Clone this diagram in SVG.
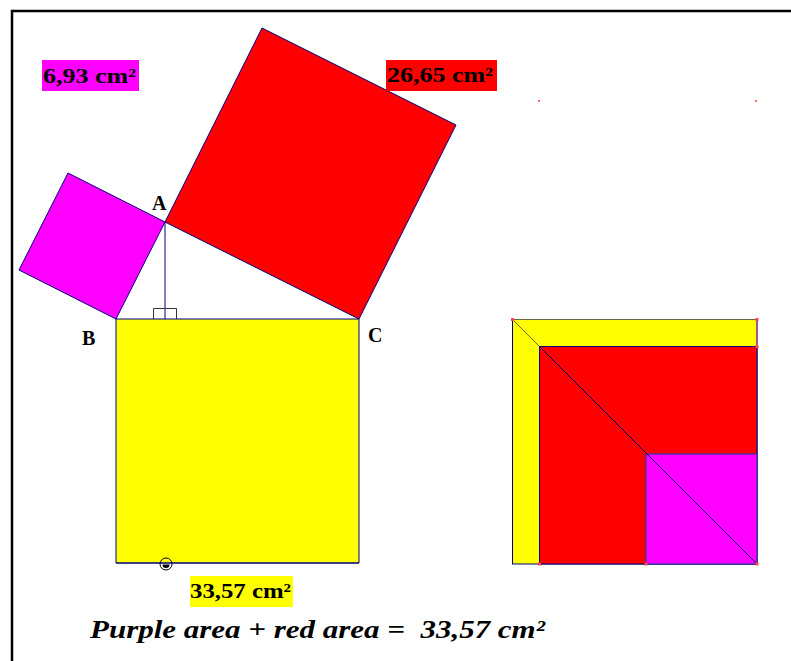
<svg xmlns="http://www.w3.org/2000/svg" width="791" height="661" viewBox="0 0 791 661">
<style>
.lbl{font-family:"Liberation Serif","Times New Roman",serif;font-weight:bold;fill:#000}
.sq{stroke:#000080;stroke-width:1;stroke-linejoin:miter}
.ln{stroke:#000080;stroke-width:1;fill:none}
</style>
<rect width="791" height="661" fill="#fff"/>
<g id="frame">
<path d="M12 661 V11 H791" fill="none" stroke="#000" stroke-width="2.5"/>
</g>
<g id="square-purple">
<polygon class="sq" points="165,222 116,319 19,270 68,173" fill="#ff00ff"/>
</g>
<g id="square-red">
<polygon class="sq" points="165,222 359,319 456,125 262,28" fill="#ff0000"/>
</g>
<g id="square-yellow">
<polygon class="sq" points="116,319 359,319 359,563 116,563" fill="#ffff00" stroke="#555577"/>
<line x1="116" y1="563" x2="359" y2="563" stroke="#000080" stroke-width="1.2"/>
</g>
<g id="connectors">
<line class="ln" x1="165" y1="222" x2="165" y2="319" stroke="#5555aa"/>
<path d="M153.5 319 V308.5 H176.5 V319" fill="none" stroke="#333" stroke-width="1"/>
</g>
<g id="point-labels">
<text class="lbl" x="152" y="210" font-size="20">A</text>
<text class="lbl" x="82" y="345" font-size="20">B</text>
<text class="lbl" x="368" y="342" font-size="20">C</text>
</g>
<g id="label-purple">
<rect x="42" y="60" width="97" height="31" fill="#ff00ff"/>
<text class="lbl" x="43" y="83" font-size="22" textLength="93" lengthAdjust="spacingAndGlyphs">6,93 cm²</text>
</g>
<g id="label-red">
<rect x="386" y="60" width="111" height="31" fill="#ff0000"/>
<text class="lbl" x="387" y="82" font-size="22" textLength="106" lengthAdjust="spacingAndGlyphs">26,65 cm²</text>
</g>
<g id="label-yellow">
<rect x="190" y="576" width="103" height="31" fill="#ffff00"/>
<text class="lbl" x="190" y="598" font-size="22" textLength="101" lengthAdjust="spacingAndGlyphs">33,57 cm²</text>
</g>
<g id="marker-point">
<circle cx="166" cy="564" r="6" fill="none" stroke="#000" stroke-width="1"/>
<path d="M162.5 564.5 A3.5 3.5 0 0 0 169.5 564.5 Z" fill="#000"/>
</g>
<g id="dots">
<rect x="538" y="100" width="2" height="2" fill="#ff6666"/>
<rect x="755" y="100" width="2" height="2" fill="#ff6666"/>
</g>
<g id="right-figure">
<rect x="512.5" y="319.5" width="244.5" height="244.5" fill="#ffff00" stroke="#000080" stroke-width="1"/>
<line x1="512.5" y1="319.5" x2="757" y2="319.5" stroke="#666644" stroke-width="1.2"/>
<line x1="757" y1="319.5" x2="757" y2="346.5" stroke="#cc3388" stroke-width="1"/>
<rect x="539.5" y="346.5" width="217.5" height="217.5" fill="#ff0000" stroke="#000080" stroke-width="1"/>
<rect x="646" y="454" width="111" height="110" fill="#ff00ff" stroke="#3333aa" stroke-width="1.2"/>
<line x1="512.5" y1="319.5" x2="539.5" y2="346.5" stroke="#666644" stroke-width="1"/>
<line x1="539.5" y1="346.5" x2="757" y2="564" stroke="#000080" stroke-width="1"/>
<g fill="#ff4444">
<rect x="511" y="318" width="3" height="3"/>
<rect x="755.5" y="318" width="3" height="3"/>
<rect x="755.5" y="345" width="3" height="3"/>
<rect x="538" y="562.5" width="3" height="3"/>
<rect x="644.5" y="562.5" width="3" height="3"/>
<rect x="755.5" y="562.5" width="3" height="3"/>
</g>
</g>
<g id="caption">
<text x="90" y="638" font-family="Liberation Serif,'Times New Roman',serif" font-style="italic" font-weight="bold" font-size="25" textLength="455" lengthAdjust="spacingAndGlyphs" xml:space="preserve">Purple area + red area =  33,57 cm²</text>
</g>
</svg>
